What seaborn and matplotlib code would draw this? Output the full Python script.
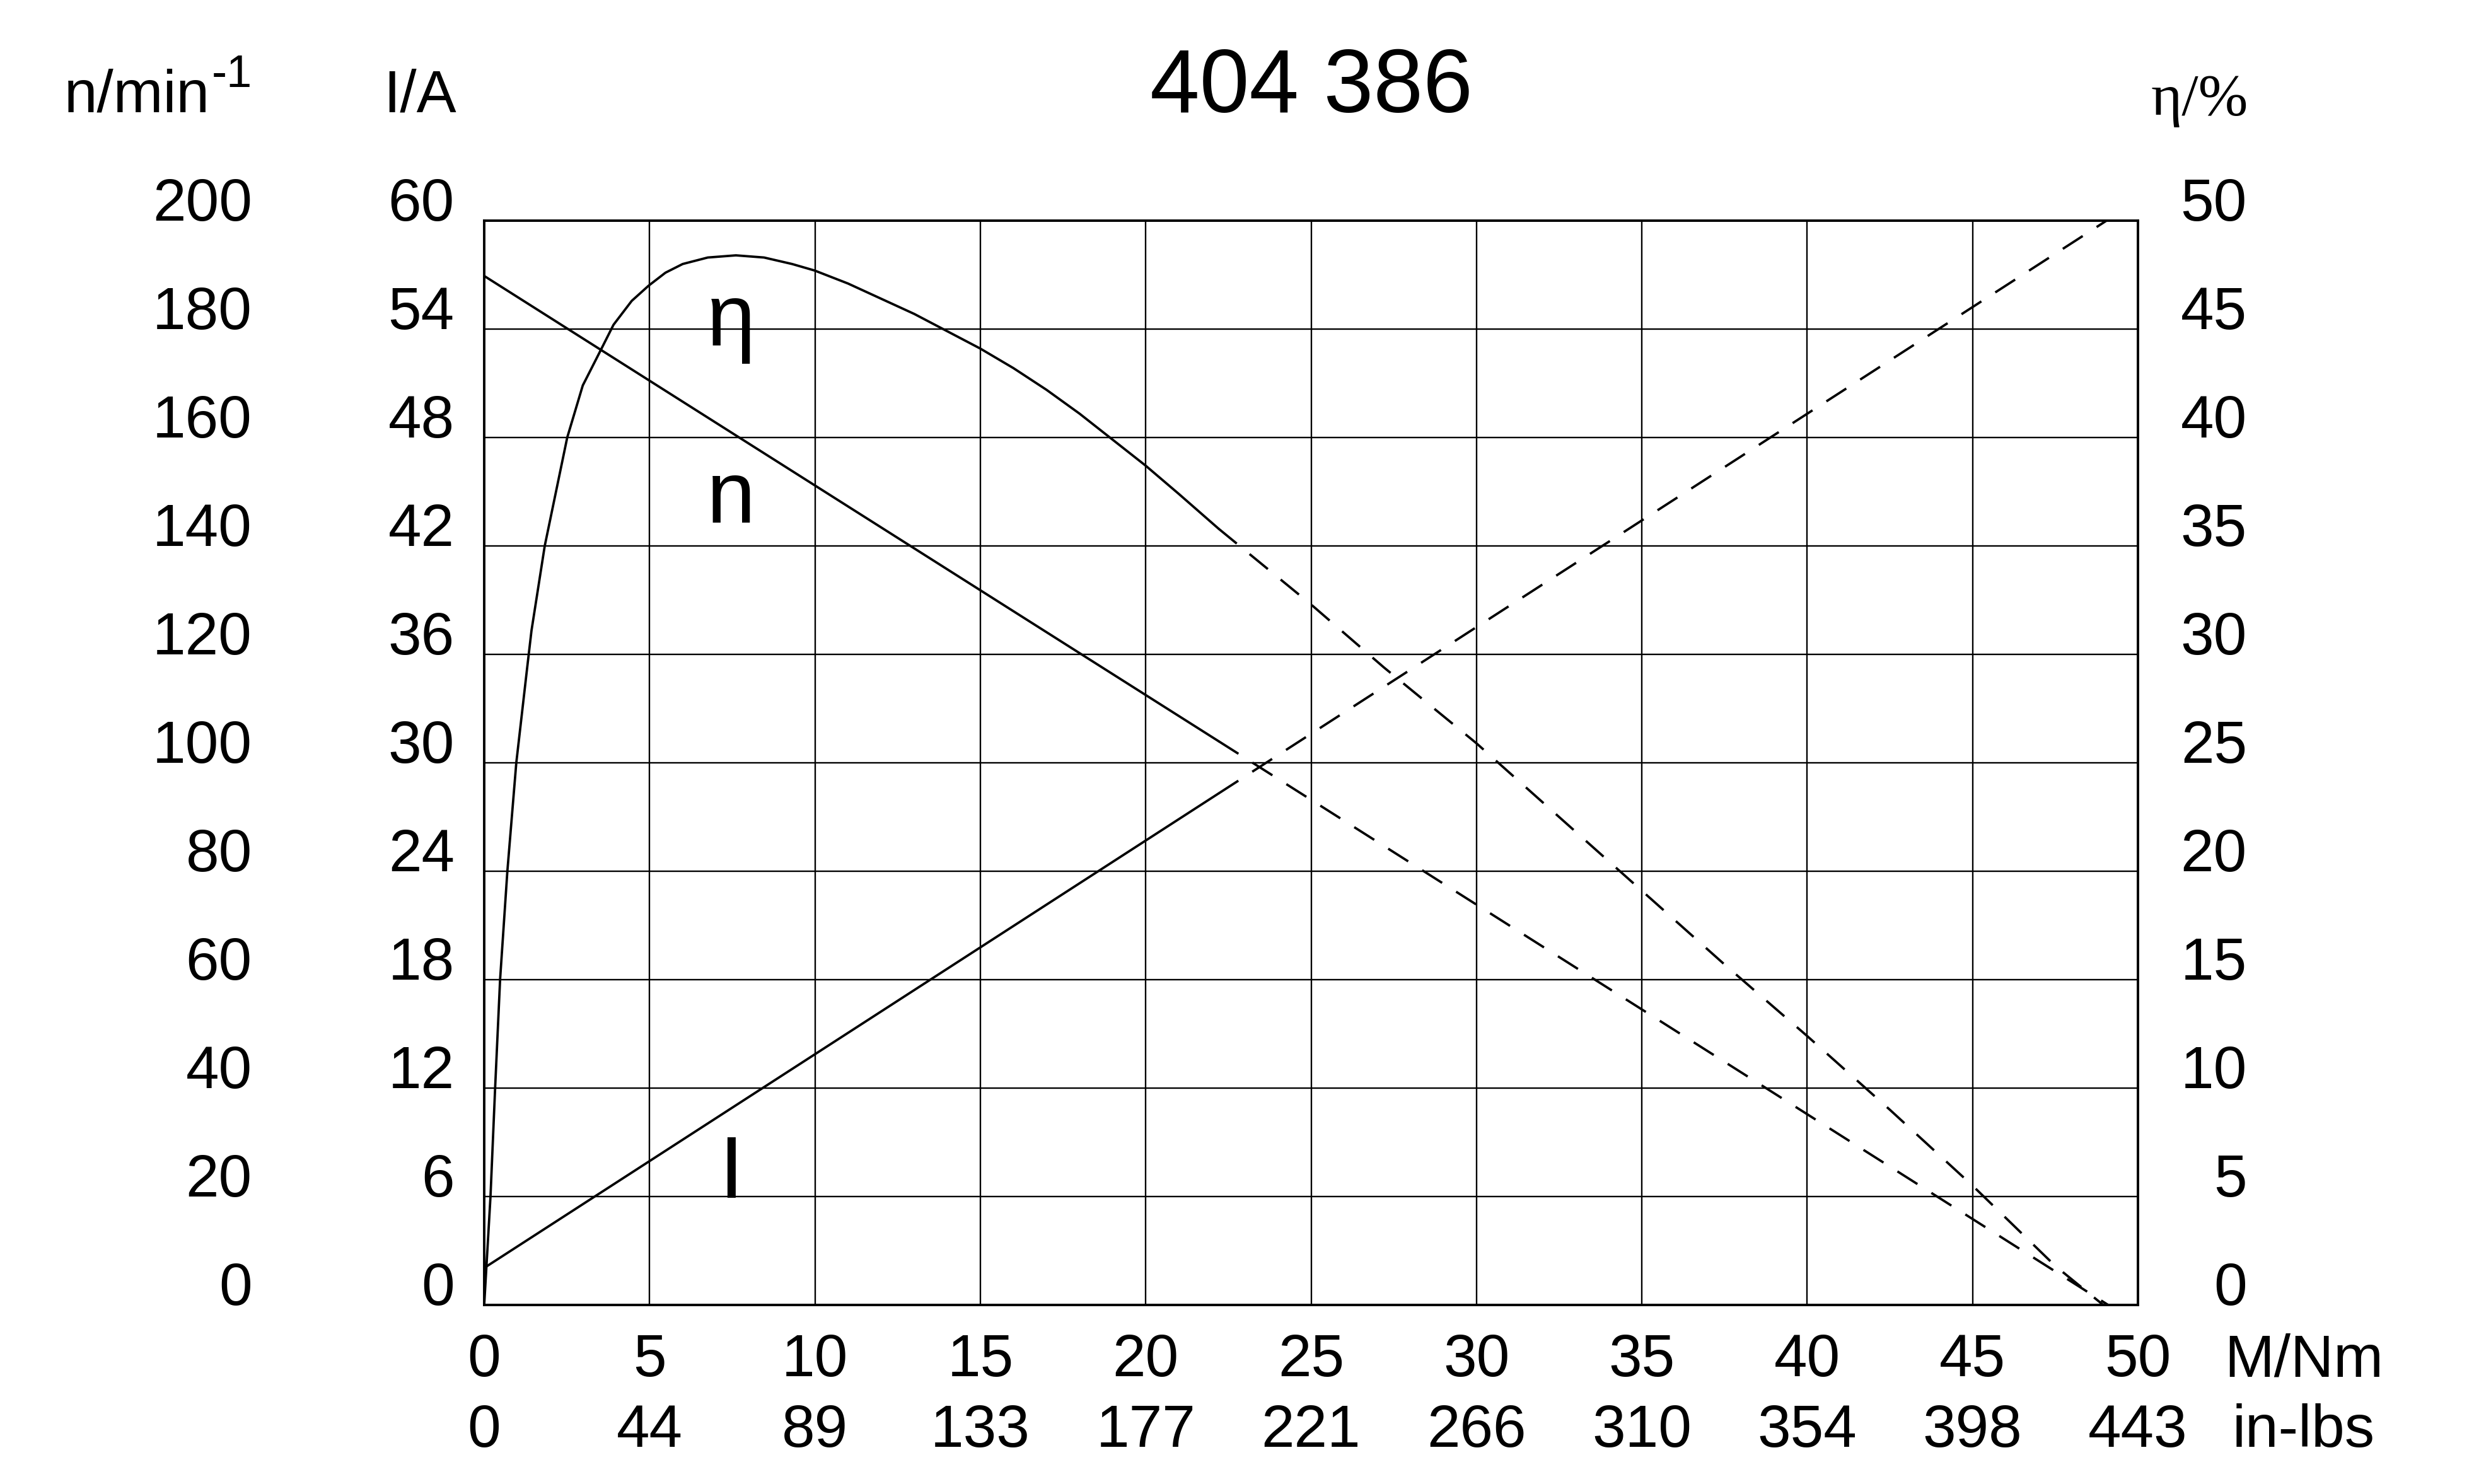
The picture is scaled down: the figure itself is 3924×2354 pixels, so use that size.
import matplotlib
matplotlib.use("Agg")
import matplotlib.pyplot as plt
import seaborn as sns

# ---------------- data ----------------
torque_ticks = [0, 5, 10, 15, 20, 25, 30, 35, 40, 45, 50]
inlbs_labels = ["0", "44", "89", "133", "177", "221", "266", "310", "354", "398", "443"]
speed_ticks = [0, 20, 40, 60, 80, 100, 120, 140, 160, 180, 200]
current_ticks = [0, 6, 12, 18, 24, 30, 36, 42, 48, 54, 60]
eff_ticks = [0, 5, 10, 15, 20, 25, 30, 35, 40, 45, 50]

speed_solid_M = [0.0, 22.2]
speed_solid = [189.8, 104.0]
speed_dash_M = [22.2, 49.1]
speed_dash = [104.0, 0.0]

current_solid_M = [0.0, 22.2]
current_solid = [2.05, 28.3]
current_dash_M = [22.2, 49.05]
current_dash = [28.3, 60.0]

eff_solid_M = [0.0, 0.19, 0.33, 0.48, 0.70, 0.97, 1.12, 1.30, 1.43, 1.83, 2.51, 2.98,
               3.53, 3.91, 4.46, 4.97, 5.48, 6.0, 6.76, 7.61, 8.46, 9.31, 9.99, 11.0,
               12.0, 13.0, 14.0, 15.0, 16.0, 17.0, 18.0, 19.0, 20.0, 21.0, 22.2]
eff_solid = [0.0, 5.0, 10.0, 15.0, 20.0, 25.0, 27.0, 29.4, 31.1, 35.0, 40.0, 42.4,
             44.05, 45.2, 46.3, 47.0, 47.6, 48.0, 48.3, 48.4, 48.3, 48.0, 47.7, 47.1,
             46.4, 45.7, 44.9, 44.1, 43.2, 42.2, 41.1, 39.9, 38.7, 37.4, 35.8]
eff_dash_M = [22.2, 25.0, 27.2, 30.0, 32.5, 35.0, 37.5, 40.0, 42.5, 45.0, 47.5, 48.95]
eff_dash = [35.8, 32.3, 29.4, 25.9, 22.5, 19.1, 15.7, 12.4, 9.0, 5.5, 1.8, 0.0]

# ---------------- style ----------------
sns.set_theme(style="white")
plt.rcParams["font.family"] = ["Liberation Sans", "DejaVu Sans"]

W, H = 3924, 2354
DPI = 100
fig = plt.figure(figsize=(W / DPI, H / DPI), dpi=DPI)
fig.patch.set_facecolor("white")

L, R, T, B = 768, 3391, 350, 2070
ax = fig.add_axes([L / W, 1 - B / H, (R - L) / W, (B - T) / H])
ax2 = ax.twinx()
ax3 = ax.twinx()

LW = 2.7
DASH = (0, (10, 7))
TICK_FS = 68
BIG_FS = 102

# current on main axis
sns.lineplot(x=current_solid_M, y=current_solid, ax=ax, color="black", lw=LW, estimator=None, sort=False)
sns.lineplot(x=current_dash_M, y=current_dash, ax=ax, color="black", lw=LW, linestyle=DASH, estimator=None, sort=False)
# speed on ax2
sns.lineplot(x=speed_solid_M, y=speed_solid, ax=ax2, color="black", lw=LW, estimator=None, sort=False)
sns.lineplot(x=speed_dash_M, y=speed_dash, ax=ax2, color="black", lw=LW, linestyle=DASH, estimator=None, sort=False)
# efficiency on ax3
sns.lineplot(x=eff_solid_M, y=eff_solid, ax=ax3, color="black", lw=LW, estimator=None, sort=False)
sns.lineplot(x=eff_dash_M, y=eff_dash, ax=ax3, color="black", lw=LW, linestyle=DASH, estimator=None, sort=False)

for a in (ax, ax2, ax3):
    a.set_xlim(0, 50)
    a.set_xlabel("")
    a.set_ylabel("")
ax.set_ylim(0, 60)
ax2.set_ylim(0, 200)
ax3.set_ylim(0, 50)

# grid + frame
ax.set_xticks(torque_ticks, labels=[f"{m}\n{lb}" for m, lb in zip(torque_ticks, inlbs_labels)])
ax.set_yticks(current_ticks, labels=[str(v) for v in current_ticks])
ax.grid(True, color="black", lw=1.7)
ax.set_axisbelow(True)
for s in ax.spines.values():
    s.set_visible(True)
    s.set_color("black")
    s.set_linewidth(2.8)
for a in (ax2, ax3):
    for s in a.spines.values():
        s.set_visible(False)
    a.grid(False)

ax.tick_params(axis="x", length=0, pad=32, labelsize=TICK_FS, colors="black")
ax.tick_params(axis="y", length=0, pad=34, labelsize=TICK_FS, colors="black")
for lbl in ax.get_xticklabels():
    lbl.set_linespacing(1.32)
for lbl in ax.get_yticklabels():
    lbl.set_va("baseline")

ax2.yaxis.tick_left()
ax2.set_yticks(speed_ticks, labels=[str(v) for v in speed_ticks])
ax2.tick_params(axis="y", length=0, pad=265, labelsize=TICK_FS, colors="black")
for lbl in ax2.get_yticklabels():
    lbl.set_va("baseline")

ax3.yaxis.tick_right()
ax3.set_yticks(eff_ticks, labels=[str(v) for v in eff_ticks])
ax3.tick_params(axis="y", length=0, pad=124.5, labelsize=TICK_FS, colors="black")
for lbl in ax3.get_yticklabels():
    lbl.set_va("baseline")
    lbl.set_ha("right")

# in-plot curve labels (positions in torque / current units)
ax.text(7.47, 53.1, "η", fontsize=100, ha="center", va="baseline", color="black")
ax.text(7.47, 43.3, "n", fontsize=100, ha="center", va="baseline", color="black")
ax.text(7.47, 5.93, "I", fontsize=100, ha="center", va="baseline", color="black")

# title and unit labels
fig.text((L + R) / 2 / W, 1 - 178 / H, "404 386", fontsize=BIG_FS, ha="center", va="baseline", color="black")
fig.text(333 / W, 1 - 178 / H, "n/min", fontsize=TICK_FS, ha="right", va="baseline", color="black")
fig.text(336 / W, 1 - 138 / H, "-1", fontsize=52, ha="left", va="baseline", color="black")
fig.text(724 / W, 1 - 178 / H, "I/A", fontsize=TICK_FS, ha="right", va="baseline", color="black")
fig.text(3566 / W, 1 - 182 / H, "η/%", fontsize=TICK_FS, ha="right", va="baseline", color="black",
         family=["Liberation Serif", "DejaVu Serif"])
fig.text(3654 / W, 1 - (B + 45) / H, "M/Nm\nin-lbs", fontsize=TICK_FS, ha="center", va="top",
         linespacing=1.32, color="black")

fig.savefig("out.png", dpi=DPI, facecolor="white")
